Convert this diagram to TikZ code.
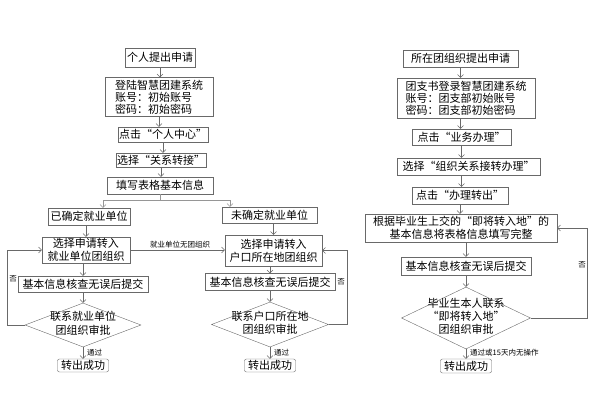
\documentclass[tikz,border=0pt]{standalone}
\usepackage{fontspec}
\setmainfont{Noto Sans CJK SC}
\usetikzlibrary{arrows.meta,shapes.geometric}
\definecolor{linegray}{RGB}{105,105,105}
% text of a decision node, kept out of the shape size
\newcommand{\dtext}[1]{\makebox[0pt]{\raisebox{-2.5pt}[0pt][0pt]{\begin{tabular}{@{}c@{}}#1\end{tabular}}}}
\begin{document}
\begin{tikzpicture}[x=1pt,y=-1pt,
    box/.style={draw=linegray, inner sep=1pt, align=center, font=\fontsize{11}{13}\selectfont},
    account/.style={box, align=left, font=\fontsize{11}{12}\selectfont},
    check/.style={diamond, draw=linegray, inner sep=0pt, font=\fontsize{11}{13}\selectfont},
    done/.style={box, rounded corners=2pt},
    flow/.style={draw=linegray, -{Straight Barb[length=3pt,width=6pt]}},
    note/.style={inner sep=1pt, font=\fontsize{7.5}{9}\selectfont}]
    \useasboundingbox (0,0) rectangle (600,418);

    %left chart
    \node[box, minimum width=70pt, minimum height=19pt] (apply) at (160,57.5) {个人提出申请};

    \node[account, minimum width=108pt, minimum height=39pt] (login) at (159,97) {登陆智慧团建系统\\账号：初始账号\\密码：初始密码};

    \node[box, minimum width=90pt, minimum height=15pt] (usercenter) at (163,134.5) {点击“个人中心”};

    \node[box, minimum width=88pt, minimum height=14pt] (transfer) at (161,160) {选择“关系转接”};

    \node[box, minimum width=106pt, minimum height=17pt] (form) at (160,185.5) {填写表格基本信息};

    \node[box, minimum width=82pt, minimum height=17pt] (hasjob) at (89,216.5) {已确定就业单位};

    \node[box, minimum width=95pt, minimum height=16pt] (nojob) at (269.5,215) {未确定就业单位};

    \node[box, minimum width=88pt, minimum height=26pt] (selA) at (86,250) {选择申请转入\\就业单位团组织};

    \node[box, minimum width=97pt, minimum height=31pt] (selB) at (273.5,250.5) {选择申请转入\\户口所在地团组织};

    \node[box, minimum width=130pt, minimum height=16pt] (checkA) at (83,284) {基本信息核查无误后提交};

    \node[box, minimum width=130pt, minimum height=17pt] (checkB) at (270,282) {基本信息核查无误后提交};

    \node[check, minimum width=116pt, minimum height=44pt] (approveA) at (83,325) {\dtext{联系就业单位\\团组织审批}};

    \node[check, minimum width=117pt, minimum height=45pt] (approveB) at (270,324.5) {\dtext{联系户口所在地\\团组织审批}};

    \node[done, minimum width=51pt, minimum height=13pt] (okA) at (83,365.5) {转出成功};

    \node[done, minimum width=51pt, minimum height=13pt] (okB) at (270,365.5) {转出成功};

    \draw[flow] (apply) -- (apply |- login.north);
    \draw[flow] (login) -- (login |- usercenter.north);
    \draw[flow] (usercenter) -- (usercenter |- transfer.north);
    \draw[flow] (transfer) -- (transfer |- form.north);

    \coordinate (split) at (160,200);
    \draw[draw=linegray!70] (form) -- (split);
    \draw[flow, draw=linegray!70] (split) -| ([xshift=14pt]hasjob.north);
    \draw[flow, draw=linegray!70] (split) -| ([xshift=-39.5pt]nojob.north);

    \draw[flow] (selA |- hasjob.south) -- (selA);
    \draw[flow] (checkA |- selA.south) -- (checkA);
    \draw[flow] (checkA) -- (checkA |- approveA.north);
    \draw[flow] (approveA) -- (approveA |- okA.north);

    \draw[flow] (selB |- nojob.south) -- (selB);
    \draw[flow] (checkB |- selB.south) -- (checkB);
    \draw[flow] (checkB) -- (checkB |- approveB.north);
    \draw[flow] (approveB) -- (approveB |- okB.north);

    \draw[flow] (selA) -- (selA -| selB.west);
    \node[note] (nounit) at (180,245) {就业单位无团组织};

    \draw[flow] (approveA.west) -- ++(-18,0) |- (selA.west);
    \node[note] (noA) at (13,279) {否};

    \draw[flow] (approveB.east) -- ++(18,0) |- (selB.east);
    \node[note] (noB) at (341,282) {否};

    \node[note, right] (passA) at (86,353) {通过};
    \node[note, right] (passB) at (273,353) {通过};

    %right chart
    \node[box, minimum width=115pt, minimum height=17pt] (orgapply) at (460.5,58.5) {所在团组织提出申请};

    \node[account, minimum width=138pt, minimum height=40pt] (orglogin) at (466,98) {团支书登录智慧团建系统\\账号：团支部初始账号\\密码：团支部初始密码};

    \node[box, minimum width=99pt, minimum height=16pt] (business) at (461.5,137) {点击“业务办理”};

    \node[box, minimum width=143pt, minimum height=17pt] (relation) at (468.5,166.5) {选择“组织关系接转办理”};

    \node[box, minimum width=96pt, minimum height=17pt] (out) at (460,195.5) {点击“办理转出”};

    \node[box, minimum width=192pt, minimum height=28pt] (fill) at (461,228) {根据毕业生上交的“即将转入地”的\\基本信息将表格信息填写完整};

    \node[box, minimum width=130pt, minimum height=18pt] (checkC) at (466,266) {基本信息核查无误后提交};

    \node[check, minimum width=129pt, minimum height=62pt] (approveC) at (466,318) {\dtext{毕业生本人联系\\“即将转入地”\\团组织审批}};

    \node[done, minimum width=51pt, minimum height=14pt] (okC) at (466,366) {转出成功};

    \draw[flow] (orgapply) -- (orgapply |- orglogin.north);
    \draw[flow] (orgapply |- orglogin.south) -- (orgapply |- business.north);
    \draw[flow] (business) -- (business |- relation.north);
    \draw[flow] (business |- relation.south) -- (business |- out.north);
    \draw[flow] (out) -- (out |- fill.north);
    \draw[flow] (checkC |- fill.south) -- (checkC);
    \draw[flow] (checkC) -- (approveC.north);
    \draw[flow] (approveC) -- (okC);

    \draw[flow] (approveC.east) -- ++(56,0) |- (fill.east);
    \node[note] (noC) at (582,265) {否};

    \node[note, right] (passC) at (469,353) {通过或15天内无操作};
\end{tikzpicture}
\end{document}
